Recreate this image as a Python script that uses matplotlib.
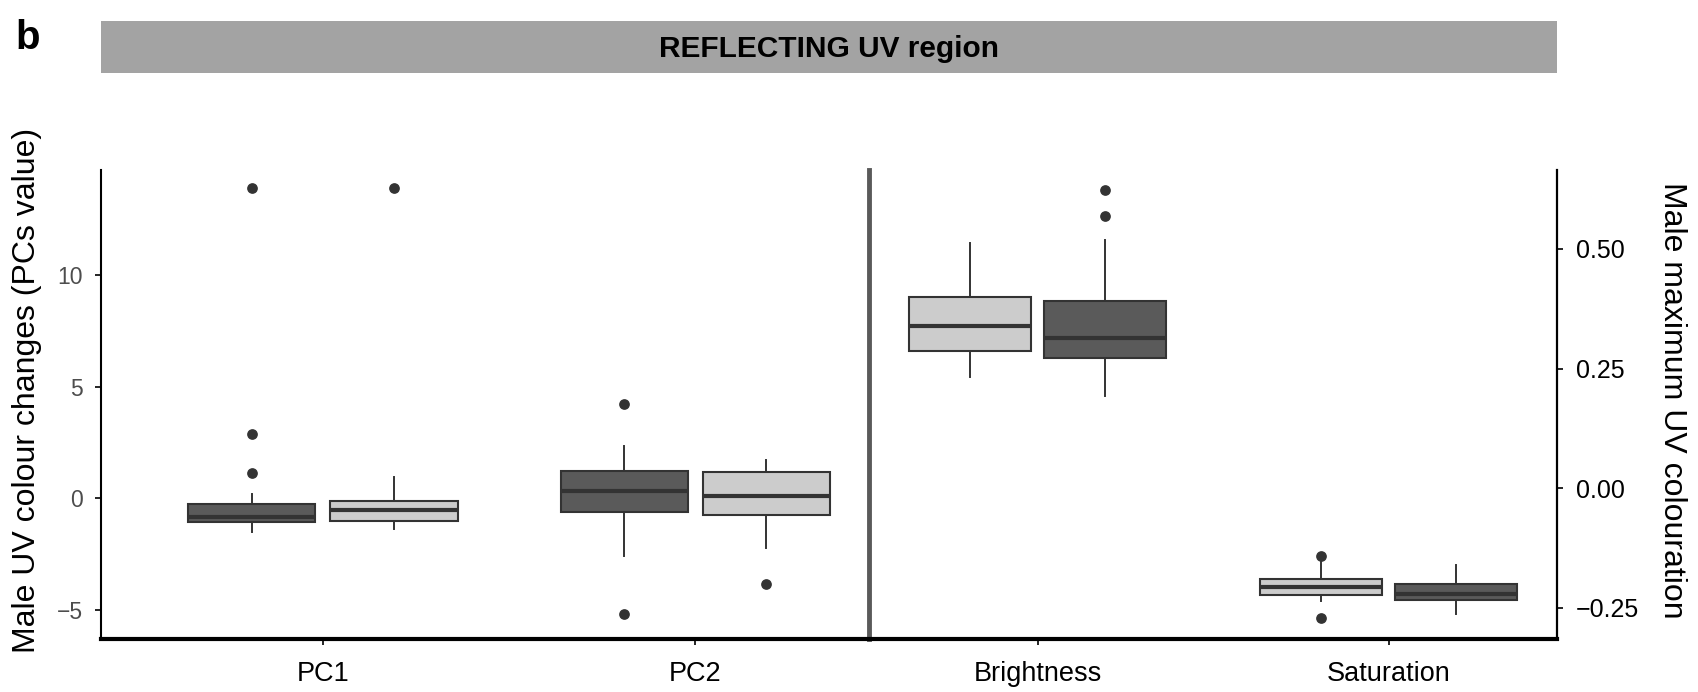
import matplotlib
matplotlib.use("Agg")
import matplotlib.pyplot as plt
from matplotlib.patches import Rectangle

plt.rcParams['font.family'] = ['Liberation Sans', 'DejaVu Sans']

# left panel: principal components (dark group first, light second)
pc_labels = ["PC1", "PC2"]
pc_dark_lo = [-1.49, -2.57]
pc_dark_q1 = [-1.07, -0.62]
pc_dark_med = [-0.84, 0.34]
pc_dark_q3 = [-0.25, 1.22]
pc_dark_hi = [0.21, 2.35]
pc_dark_out = [[13.89, 2.86, 1.13], [4.24, -5.18]]

pc_light_lo = [-1.38, -2.23]
pc_light_q1 = [-0.99, -0.73]
pc_light_med = [-0.51, 0.09]
pc_light_q3 = [-0.13, 1.19]
pc_light_hi = [0.96, 1.70]
pc_light_out = [[13.89], [-3.81]]

# right panel: maximum UV colouration (light group first, dark second)
uv_labels = ["Brightness", "Saturation"]
uv_light_lo = [0.232, -0.235]
uv_light_q1 = [0.286, -0.224]
uv_light_med = [0.339, -0.206]
uv_light_q3 = [0.400, -0.190]
uv_light_hi = [0.513, -0.155]
uv_light_out = [[], [-0.1425, -0.272]]

uv_dark_lo = [0.193, -0.262]
uv_dark_q1 = [0.272, -0.234]
uv_dark_med = [0.315, -0.220]
uv_dark_q3 = [0.392, -0.201]
uv_dark_hi = [0.519, -0.161]
uv_dark_out = [[0.6225, 0.569], []]

DARK = "#5a5a5a"
LIGHT = "#cccccc"
EDGE = "#333333"


def make_stats(lo, q1, med, q3, hi, out):
    return [dict(whislo=a, q1=b, med=c, q3=d, whishi=e, fliers=f)
            for a, b, c, d, e, f in zip(lo, q1, med, q3, hi, out)]


def draw_boxes(ax, stats, positions, width, fill):
    ax.bxp(stats, positions=positions, widths=width, patch_artist=True,
           showcaps=False, manage_ticks=False,
           boxprops=dict(facecolor=fill, edgecolor=EDGE, linewidth=1.5),
           medianprops=dict(color=EDGE, linewidth=3),
           whiskerprops=dict(color=EDGE, linewidth=1.4),
           flierprops=dict(marker="o", markerfacecolor=EDGE, markeredgecolor=EDGE,
                           markersize=6.7, linestyle="none"))


fig = plt.figure(figsize=(16.99, 6.92), dpi=100)

ax1 = fig.add_axes([0.0593, 0.0766, 0.4521, 0.6777])
ax2 = fig.add_axes([0.5115, 0.0766, 0.4049, 0.6777])

x = [1, 2]
off, bw = 0.191, 0.342
draw_boxes(ax1, make_stats(pc_dark_lo, pc_dark_q1, pc_dark_med, pc_dark_q3, pc_dark_hi, pc_dark_out),
           [p - off for p in x], bw, DARK)
draw_boxes(ax1, make_stats(pc_light_lo, pc_light_q1, pc_light_med, pc_light_q3, pc_light_hi, pc_light_out),
           [p + off for p in x], bw, LIGHT)

off2, bw2 = 0.192, 0.348
draw_boxes(ax2, make_stats(uv_light_lo, uv_light_q1, uv_light_med, uv_light_q3, uv_light_hi, uv_light_out),
           [p - off2 for p in x], bw2, LIGHT)
draw_boxes(ax2, make_stats(uv_dark_lo, uv_dark_q1, uv_dark_med, uv_dark_q3, uv_dark_hi, uv_dark_out),
           [p + off2 for p in x], bw2, DARK)

# left axes
ax1.set_xlim(0.4035, 2.466)
ax1.set_ylim(-6.29, 14.69)
ax1.set_xticks(x)
ax1.set_xticklabels(pc_labels)
ax1.set_yticks([-5, 0, 5, 10])
ax1.set_yticklabels(["\u22125", "0", "5", "10"])
ax1.tick_params(axis="y", labelsize=16.5, labelcolor="#4d4d4d", length=4, width=1.2, pad=9)
ax1.tick_params(axis="x", labelsize=19.5, length=4, width=1.2, pad=12)
for s in ["top", "right"]:
    ax1.spines[s].set_visible(False)
ax1.spines["left"].set_linewidth(1.5)
ax1.spines["bottom"].set_linewidth(3)

# right axes
ax2.set_xlim(0.519, 2.480)
ax2.set_ylim(-0.315, 0.665)
ax2.set_xticks(x)
ax2.set_xticklabels(uv_labels)
ax2.yaxis.tick_right()
ax2.set_yticks([-0.25, 0.0, 0.25, 0.5])
ax2.set_yticklabels(["\u22120.25", "0.00", "0.25", "0.50"])
ax2.tick_params(axis="y", labelsize=18, length=4.5, width=1.2, pad=9)
ax2.tick_params(axis="x", labelsize=19.5, length=4, width=1.2, pad=12)
ax2.spines["top"].set_visible(False)
ax2.spines["left"].set_color("#5a5a5a")
ax2.spines["left"].set_linewidth(3.5)
ax2.spines["right"].set_linewidth(1.6)
ax2.spines["bottom"].set_linewidth(3)

# strip header
fig.patches.append(Rectangle((0.0593, 0.8949), 0.8571, 0.0748, transform=fig.transFigure,
                             facecolor="#a3a3a3", edgecolor="none"))
fig.text(0.488, 0.918, "REFLECTING UV region", ha="center", va="baseline",
         fontsize=21.5, fontweight="bold")
fig.text(0.009, 0.9295, "b", ha="left", va="baseline", fontsize=29, fontweight="bold")

fig.text(0.0156, 0.436, "Male UV colour changes (PCs value)", rotation=90,
         ha="center", va="center", fontsize=23)
fig.text(0.984, 0.4212, "Male maximum UV colouration", rotation=-90,
         ha="center", va="center", fontsize=23)

fig.savefig("out.png", dpi=100)
